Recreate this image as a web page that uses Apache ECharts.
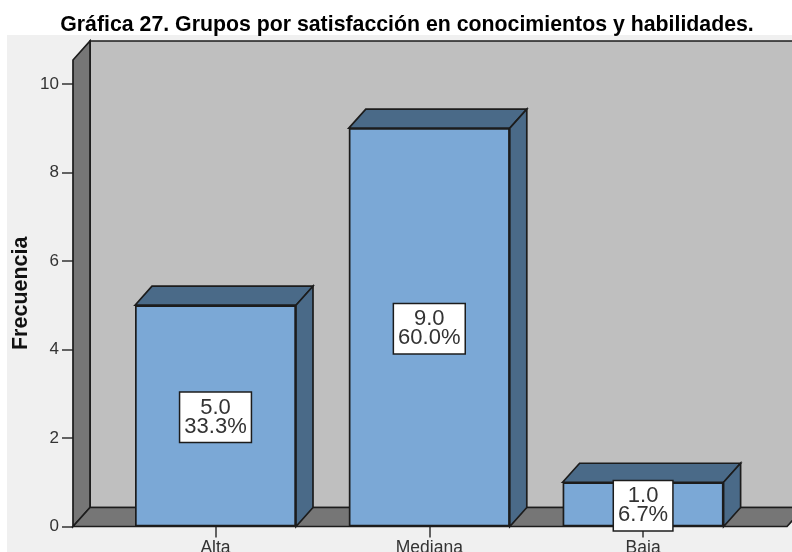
<!DOCTYPE html>
<html><head><meta charset="utf-8">
<style>html,body{margin:0;padding:0;background:#fff}#c{width:792px;height:552px}</style>
<script src="https://cdn.jsdelivr.net/npm/echarts@6/dist/echarts.min.js"></script>
</head><body><div id="c"></div>
<script>
const categories = ['Alta', 'Mediana', 'Baja'];
const frequencies = [5, 9, 1];
const percents = ['33.3%', '60.0%', '6.7%'];
const yTicks = [0, 2, 4, 6, 8, 10];
const titleText = 'Gráfica 27. Grupos por satisfacción en conocimientos y habilidades.';
const yName = 'Frecuencia';

const DX = 17, DY = -19;
const G = {left: 108.6, right: 42, top: 60, bottom: 25.5, containLabel: false, outerBoundsMode: 'none'};
const EDGE = '#1c1c1c';
const shape = (pts, fill) => ({type: 'polygon', shape: {points: pts},
  style: {fill, stroke: EDGE, lineWidth: 1.7}});

const chart = echarts.init(document.getElementById('c'));
chart.setOption({
  animation: false,
  backgroundColor: '#ffffff',
  title: {text: titleText, left: 402, top: 10, textAlign: 'center',
    textStyle: {fontFamily: 'Liberation Sans', fontWeight: 'bold', fontSize: 21.3, color: '#000'}},
  graphic: [{type: 'rect', z: -10, silent: true,
    shape: {x: 7, y: 35, width: 785, height: 517}, style: {fill: '#f0f0f0'}}],
  grid: G,
  xAxis: {type: 'category', data: categories, position: 'bottom',
    axisLine: {show: false},
    axisTick: {show: true, alignWithLabel: true, length: 11, lineStyle: {color: '#333', width: 1.5}},
    axisLabel: {margin: 13, fontFamily: 'Liberation Sans', fontSize: 17.5, color: '#333'}},
  yAxis: {type: 'value', min: 0, max: 10.54, interval: 2, offset: 35.6,
    name: yName, nameLocation: 'middle', nameGap: 41, nameRotate: 90, nameMoveOverlap: false,
    nameTextStyle: {fontFamily: 'Liberation Sans', fontWeight: 'bold', fontSize: 21.5, color: '#111'},
    axisLine: {show: false}, splitLine: {show: false},
    axisTick: {show: true, length: 11, lineStyle: {color: '#333', width: 1.5},
      customValues: yTicks},
    axisLabel: {margin: 14, fontFamily: 'Liberation Sans', fontSize: 17, color: '#333',
      customValues: yTicks}},
  series: [
    {type: 'custom', name: 'walls', z: 1, silent: true, data: [[0]],
      renderItem(params, api) {
        const cs = params.coordSys;
        const x0 = cs.x - 35.6, x1 = cs.x + cs.width + 37;
        const yb = api.coord([0, 0])[1], yt = cs.y;
        return {type: 'group', children: [
          shape([[x0 + DX, yt + DY], [800, yt + DY], [800, yb + DY], [x0 + DX, yb + DY]], '#bfbfbf'),
          shape([[x0, yt], [x0 + DX, yt + DY], [x0 + DX, yb + DY], [x0, yb]], '#767676'),
          shape([[x0, yb], [x0 + DX, yb + DY], [x1 + DX, yb + DY], [x1, yb]], '#767676')
        ]};
      }},
    {type: 'custom', name: 'depth', z: 2, silent: true,
      data: frequencies.map((v, i) => [i, v]),
      renderItem(params, api) {
        const c = api.coord([api.value(0), api.value(1)]);
        const b = api.coord([api.value(0), 0]);
        const hw = 80.5;
        const l = c[0] - hw, r = c[0] + hw;
        return {type: 'group', children: [
          shape([[l, c[1]], [l + DX, c[1] + DY], [r + DX, c[1] + DY], [r, c[1]]], '#4a6a88'),
          shape([[r, c[1]], [r + DX, c[1] + DY], [r + DX, b[1] + DY], [r, b[1]]], '#4a6a88')
        ]};
      }},
    {type: 'bar', name: yName, z: 3, barWidth: 161, data: frequencies,
      itemStyle: {color: '#7ba8d6', borderColor: EDGE, borderWidth: 1.7},
      label: {show: true, position: 'inside', z: 10, offset: [0, 1.5],
        formatter: p => p.value.toFixed(1) + '\n' + percents[p.dataIndex],
        fontFamily: 'Liberation Sans', fontSize: 22, lineHeight: 19, color: '#333',
        backgroundColor: '#ffffff', borderColor: EDGE, borderWidth: 1.5,
        padding: [6, 4, 5, 4]}}
  ]
});
</script></body></html>
